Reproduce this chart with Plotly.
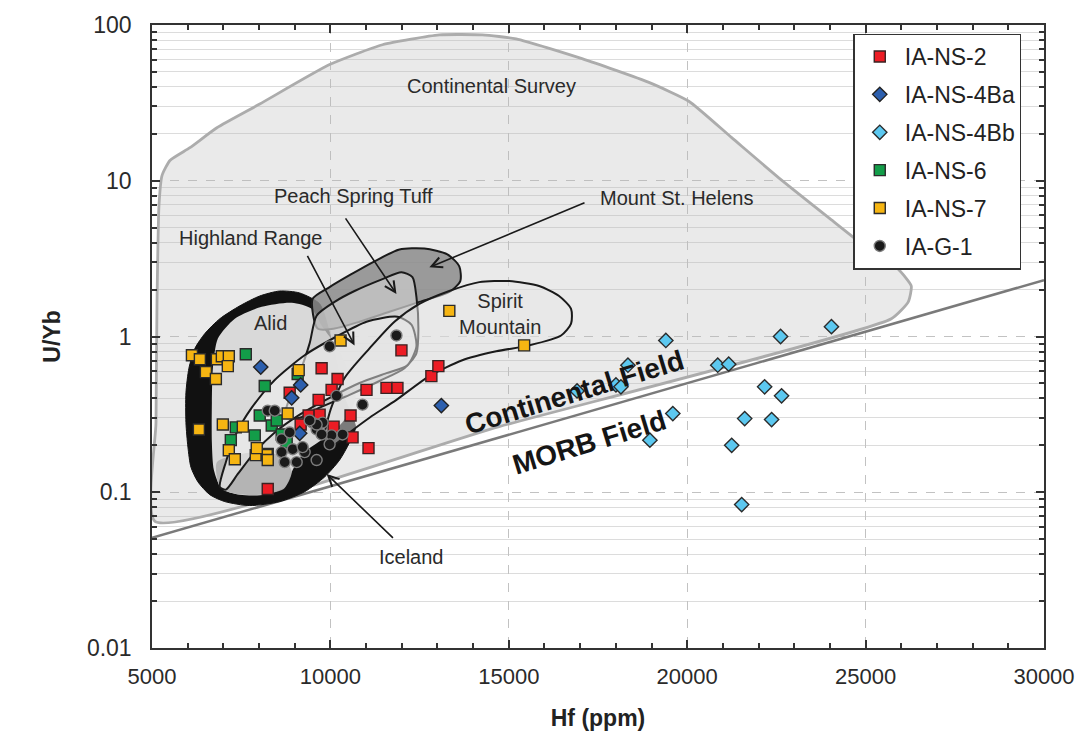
import plotly.graph_objects as go

# ---------------- sample data (Hf ppm, U/Yb) ----------------
ns2_hf = [11991, 9754, 10201, 10034, 9670, 11012, 11572, 11879, 12830, 13026, 10565, 10621,
          11068, 9390, 10089, 8244, 8859, 9167, 9698]
ns2_u = [0.815, 0.626, 0.533, 0.454, 0.392, 0.454, 0.468, 0.468, 0.557, 0.645, 0.311, 0.225,
         0.192, 0.311, 0.264, 0.105, 0.435, 0.272, 0.315]

ns4ba_hf = [8048, 9167, 8915, 9139, 13110]
ns4ba_u = [0.636, 0.489, 0.404, 0.239, 0.360]

ns4bb_hf = [19401, 18339, 18003, 18143, 16913, 20856, 21163, 22617, 24043, 22170, 22645,
            21611, 22366, 19597, 18954, 21247, 21527]
ns4bb_u = [0.943, 0.654, 0.489, 0.475, 0.447, 0.654, 0.664, 1.0, 1.157, 0.475, 0.416,
           0.297, 0.293, 0.320, 0.216, 0.200, 0.0833]

ns6_hf = [7629, 8160, 9083, 7209, 7880, 8020, 8356, 8635, 8496, 8244, 7349, 8775]
ns6_u = [0.769, 0.481, 0.574, 0.216, 0.232, 0.311, 0.268, 0.235, 0.289, 0.176, 0.261, 0.209]

ns7_hf = [6119, 6342, 6818, 6957, 7153, 7125, 6510, 6790, 6314, 6985, 7545, 7153, 7321, 7908,
          8216, 8244, 8803, 9111, 10285, 13333, 15430, 7936]
ns7_u = [0.758, 0.714, 0.714, 0.746, 0.746, 0.645, 0.591, 0.533, 0.253, 0.272, 0.264, 0.186,
         0.163, 0.173, 0.173, 0.161, 0.320, 0.608, 0.943, 1.46, 0.877, 0.192]

g1_hf = [9978, 11851, 10900, 10173, 8244, 8440, 9502, 9782, 9614, 10034, 9754, 10341, 9978,
         8635, 8635, 8943, 9278, 8719, 9055, 9614, 9222, 9614, 9418, 8859]
g1_u = [0.864, 1.015, 0.365, 0.416, 0.334, 0.334, 0.280, 0.280, 0.253, 0.232, 0.235, 0.235,
        0.203, 0.219, 0.181, 0.189, 0.181, 0.156, 0.156, 0.161, 0.195, 0.272, 0.289, 0.242]

# ---------------- reference fields (outlines in Hf, U/Yb) ----------------
cs_hf = [5084, 5112, 5140, 5196, 5280, 5503, 6063, 6818, 8020, 9978, 11460, 13054, 14256,
         15207, 17052, 18926, 20045, 21247, 22645, 24043, 24994, 25917, 26280, 26196, 25721, 14731]
cs_u = [0.065, 0.28, 1.62, 6.98, 10.8, 13.5, 16.3, 21.9, 31.1, 55.7, 74.7, 86.4, 86.4,
        81.5, 60.8, 42.8, 32.4, 18.9, 10.1, 5.61, 3.78, 2.70, 2.11, 1.67, 1.30, 0.264]

morb_hf = [5000, 30000]
morb_u = [0.051, 2.3]

alid_hf = [9698, 9139, 8579, 8020, 7461, 6902, 6482, 6203, 6035, 5951, 5951, 6007, 6091, 6286,
           6622, 7041, 7740, 8579, 9278, 9838, 10257, 10537, 10705, 10397, 9978]
alid_u = [1.62, 1.903, 1.959, 1.82, 1.573, 1.301, 1.045, 0.839, 0.626, 0.435, 0.280, 0.195,
          0.145, 0.1167, 0.0964, 0.0871, 0.0821, 0.0871, 0.1008, 0.1254, 0.161, 0.209, 0.261,
          0.404, 1.045]

alid_in_hf = [6846, 7321, 8076, 8915, 9474, 9754, 10201, 10537, 10705, 10537, 10257, 9782, 9278,
              8943, 8719, 8160, 7461, 6957, 6734, 6678, 6678, 6706]
alid_in_u = [0.971, 1.301, 1.55, 1.644, 1.506, 1.175, 0.839, 0.565, 0.404, 0.324, 0.268, 0.219,
             0.181, 0.139, 0.108, 0.0964, 0.0964, 0.105, 0.139, 0.209, 0.375, 0.626]

lens_hf = [6818, 7461, 8160, 8663, 8915, 8691, 8020, 7321, 6902]
lens_u = [0.156, 0.1755, 0.181, 0.168, 0.135, 0.105, 0.0964, 0.0978, 0.108]

msh_hf = [9502, 9978, 10537, 11236, 11935, 12634, 13278, 13613, 13641, 13333, 12494, 11655,
          10816, 10117, 9642]
msh_u = [1.743, 2.077, 2.475, 3.04, 3.62, 3.67, 3.37, 2.82, 2.27, 1.931, 1.668, 1.441, 1.245,
         1.124, 1.124]

pst_hf = [9614, 10117, 10677, 11460, 11991, 12299, 12411, 12466, 12411, 12075, 11376, 10537,
          9698, 9139, 8719, 8859, 9139, 9418]
pst_u = [1.36, 1.668, 1.959, 2.335, 2.586, 2.404, 1.795, 1.124, 0.780, 0.626, 0.518, 0.422,
         0.349, 0.301, 0.301, 0.404, 0.582, 0.903]

hr_hf = [6902, 7069, 7349, 7796, 8440, 9278, 10173, 11012, 11879, 12271, 12411, 12159, 11572,
         10816, 9978, 9139, 8440, 7880, 7405, 7069]
hr_u = [0.108, 0.156, 0.235, 0.349, 0.526, 0.758, 1.0, 1.245, 1.34, 1.192, 0.864, 0.654, 0.582,
        0.503, 0.404, 0.315, 0.242, 0.181, 0.131, 0.104]

sm_hf = [9838, 9978, 10397, 11096, 11795, 12494, 13333, 14172, 15011, 15850, 16409, 16745,
         16745, 16465, 15570, 14648, 13697, 12774, 11851, 11096, 10537, 10117]
sm_u = [0.209, 0.324, 0.541, 0.839, 1.245, 1.62, 1.959, 2.234, 2.268, 2.108, 1.82, 1.506,
        1.21, 1.015, 0.877, 0.803, 0.704, 0.557, 0.392, 0.301, 0.242, 0.203]

# ---------------- labels ----------------
label_text = ["Continental Survey", "Peach Spring Tuff", "Mount St. Helens", "Highland Range",
              "Alid", "Spirit<br>Mountain", "Iceland"]
label_hf = [14508, 10649, 19709, 7768, 8328, 14759, 12271]
label_logu = [1.606, 0.902, 0.889, 0.635, 0.089, 0.146, -1.416]

field_text = ["Continental Field", "MORB Field"]
field_hf = [16829, 17248]
field_logu = [-0.362, -0.679]

arrow_head_hf = [11851, 10677, 12774, 9894]
arrow_head_logu = [0.273, -0.057, 0.444, -0.883]
arrow_tail_hf = [10397, 9334, 17164, 11795]
arrow_tail_logu = [0.768, 0.527, 0.863, -1.302]

x_ticks = [5000, 10000, 15000, 20000, 25000, 30000]
x_minor = list(range(5000, 30001, 1000))
y_ticks = [0.01, 0.1, 1, 10, 100]
y_ticktext = ["0.01", "0.1", "1", "10", "100"]
y_minor = [m * 10.0 ** e for e in range(-2, 2) for m in range(2, 10)]

FONT = "Liberation Sans, Arial, Helvetica, sans-serif"

fig = go.Figure()


def field(hf, u, fill, line_color, width, smooth=0.7):
    fig.add_trace(go.Scatter(
        x=hf + [hf[0]], y=u + [u[0]], mode="lines", fill="toself", fillcolor=fill,
        line=dict(color=line_color, width=width, shape="spline", smoothing=smooth),
        hoverinfo="skip", showlegend=False))


field(cs_hf, cs_u, "rgba(185,185,185,0.30)", "#acacac", 2.8, 0.5)
fig.add_trace(go.Scatter(x=morb_hf, y=morb_u, mode="lines", line=dict(color="#7a7a7a", width=2.5),
                         hoverinfo="skip", showlegend=False))
field(alid_hf, alid_u, "#111111", "#111111", 1)
field(alid_in_hf, alid_in_u, "rgba(226,226,226,0.96)", "rgba(0,0,0,0)", 0)
field(lens_hf, lens_u, "rgba(178,178,178,0.95)", "rgba(0,0,0,0)", 0)
field(msh_hf, msh_u, "rgba(140,140,140,0.85)", "#1a1a1a", 2)
field(pst_hf, pst_u, "rgba(200,200,200,0.75)", "#1a1a1a", 2)
field(hr_hf, hr_u, "rgba(240,240,240,0.6)", "#1a1a1a", 2)
field(sm_hf, sm_u, "rgba(230,230,230,0.5)", "#1a1a1a", 2)

# ---------------- samples ----------------
series = [
    ("IA-NS-6", ns6_hf, ns6_u, "square", "#139d49", "#2b2b2b", 4),
    ("IA-NS-7", ns7_hf, ns7_u, "square", "#f6b512", "#2b2b2b", 5),
    ("IA-NS-2", ns2_hf, ns2_u, "square", "#ec1c24", "#3a2222", 1),
    ("IA-NS-4Ba", ns4ba_hf, ns4ba_u, "diamond", "#2c5fae", "#222222", 2),
    ("IA-NS-4Bb", ns4bb_hf, ns4bb_u, "diamond", "#5cc8f0", "#2b2b2b", 3),
    ("IA-G-1", g1_hf, g1_u, "circle", "#1a1a1a", "#7d7d7d", 6),
]
for name, hx, hy, sym, col, lc, rank in series:
    fig.add_trace(go.Scatter(
        x=hx, y=hy, mode="markers", name=name, legendrank=rank, legendgroup=name,
        marker=dict(symbol=sym, size=11, color=col, line=dict(color=lc, width=1.4))))

# ---------------- annotations ----------------
ann = []
for t, x, y in zip(label_text, label_hf, label_logu):
    ann.append(dict(x=x, y=y, xref="x", yref="y", text=t, showarrow=False,
                    font=dict(family=FONT, size=20, color="#2a2a2a")))
for t, x, y in zip(field_text, field_hf, field_logu):
    ann.append(dict(x=x, y=y, xref="x", yref="y", text="<b>" + t + "</b>", showarrow=False,
                    textangle=-17, font=dict(family=FONT, size=28, color="#151515")))
for hx, hy, tx, ty in zip(arrow_head_hf, arrow_head_logu, arrow_tail_hf, arrow_tail_logu):
    ann.append(dict(x=hx, y=hy, ax=tx, ay=ty, xref="x", yref="y", axref="x", ayref="y",
                    text="", showarrow=True, arrowhead=5, arrowsize=1.3, arrowwidth=1.6,
                    arrowcolor="#1a1a1a"))

fig.update_layout(
    width=1087, height=749,
    margin=dict(l=152, r=41, t=18, b=101),
    paper_bgcolor="white", plot_bgcolor="white",
    font=dict(family=FONT, color="#222222"),
    annotations=ann,
    legend=dict(x=0.7864, y=0.986, xanchor="left", yanchor="top", bgcolor="white",
                bordercolor="#333333", borderwidth=1.3, font=dict(family=FONT, size=23, color="#222"),
                tracegroupgap=5, traceorder="grouped", itemwidth=40),
)

fig.update_xaxes(
    range=[5000, 30000], tickmode="array", tickvals=x_ticks, ticktext=[str(v) for v in x_ticks],
    ticks="inside", ticklen=8, tickwidth=1.5, tickcolor="#333",
    showline=True, linecolor="#333", linewidth=1.5, mirror="allticks",
    showgrid=True, gridcolor="#c2c2c2", griddash="dash", gridwidth=1.4, zeroline=False,
    minor=dict(tickvals=x_minor, ticks="inside", ticklen=5, tickcolor="#333", showgrid=False),
    tickfont=dict(family=FONT, size=22, color="#2a2a2a"), ticklabelstandoff=8,
    title=dict(text="<b>Hf (ppm)</b>", font=dict(family=FONT, size=23, color="#222"), standoff=22),
)
fig.update_yaxes(
    type="log", range=[-2, 2], tickmode="array", tickvals=y_ticks, ticktext=y_ticktext,
    ticks="inside", ticklen=8, tickwidth=1.5, tickcolor="#333",
    showline=True, linecolor="#333", linewidth=1.5, mirror="allticks",
    showgrid=True, gridcolor="#c2c2c2", griddash="dash", gridwidth=1.4, zeroline=False,
    minor=dict(tickvals=y_minor, ticks="inside", ticklen=5, tickcolor="#333",
               showgrid=True, gridcolor="#dcdcdc", gridwidth=1, griddash="solid"),
    tickfont=dict(family=FONT, size=23, color="#2a2a2a"), ticklabelstandoff=14,
    title=dict(text="<b>U/Yb</b>", font=dict(family=FONT, size=23, color="#222"), standoff=20),
)

fig.write_html("out.html")
